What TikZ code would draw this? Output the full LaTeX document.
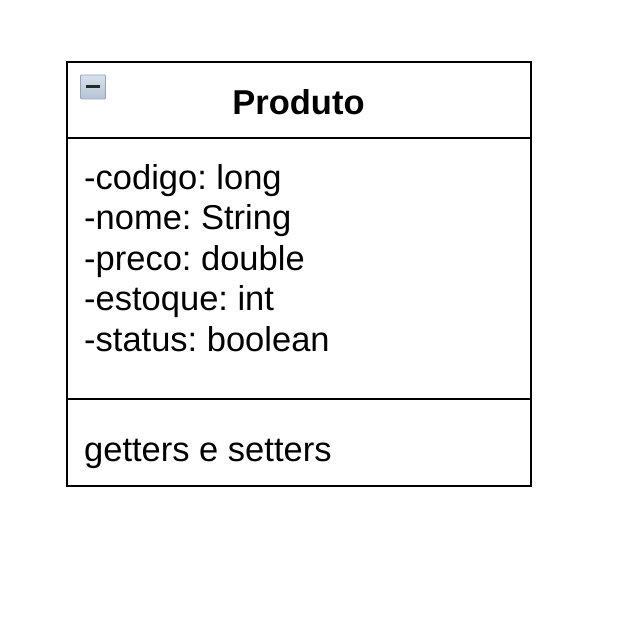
\documentclass[tikz,border=0pt]{standalone}
\usepackage{fontspec}
\setmainfont{Liberation Sans}
\frenchspacing
\begin{document}
\begin{tikzpicture}[x=1pt,y=-1pt,
  umlline/.style={draw=black,line width=2pt},
  attr/.style={anchor=base west,inner sep=0pt,font=\fontsize{34.5}{40}\selectfont},
  title/.style={anchor=base,inner sep=0pt,font=\fontsize{34.5}{40}\selectfont\bfseries}]
\useasboundingbox (0,0) rectangle (638,634);
\fill[white] (0,0) rectangle (638,634);
\coordinate (tl) at (67,62);
\coordinate (br) at (531,486);
\draw[umlline] (tl) rectangle (br);
\draw[umlline] (67,138) -- (531,138);
\draw[umlline] (67,399) -- (531,399);
% collapse icon
\node[draw={rgb,255:red,150;green,165;blue,185},line width=0.8pt,top color={rgb,255:red,215;green,225;blue,236},bottom color={rgb,255:red,180;green,195;blue,212},minimum width=25pt,minimum height=24pt,inner sep=0pt,rounded corners=1pt] (icon) at (93,87) {};
\draw[line width=3pt,color={rgb,255:red,40;green,40;blue,40}] ([xshift=-7pt]icon.center) -- ([xshift=7pt]icon.center);
\node[title] (name) at (298.5,114) {Produto};
\node[attr] (a1) at (84,189) {-codigo: long};
\node[attr] (a2) at (84,229.5) {-nome: String};
\node[attr] (a3) at (84,270) {-preco: double};
\node[attr] (a4) at (84,310.5) {-estoque: int};
\node[attr] (a5) at (84,351) {-status: boolean};
\node[attr] (m1) at (84,461) {getters e setters};
\end{tikzpicture}
\end{document}
